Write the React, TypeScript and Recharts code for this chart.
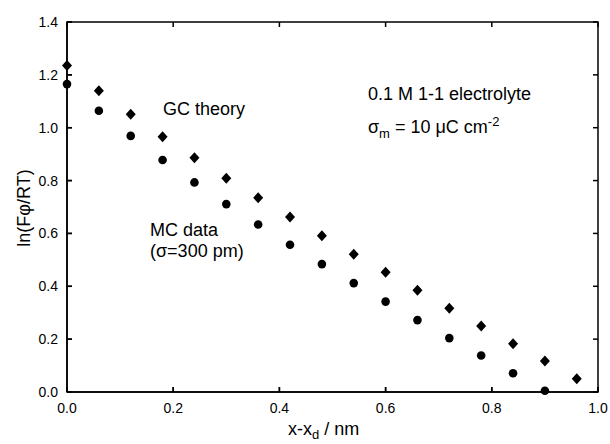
import React from 'react';
import { ScatterChart, Scatter, XAxis, YAxis, ReferenceArea, ReferenceLine } from 'recharts';

// GC theory (diamonds)
const gcX = [0, 0.06, 0.12, 0.18, 0.24, 0.3, 0.36, 0.42, 0.48, 0.54, 0.6, 0.66, 0.72, 0.78, 0.84, 0.9, 0.96];
const gcY = [1.235, 1.14, 1.051, 0.966, 0.886, 0.809, 0.735, 0.662, 0.591, 0.521, 0.453, 0.385, 0.317, 0.25, 0.183, 0.117, 0.05];

// MC data (circles)
const mcX = [0, 0.06, 0.12, 0.18, 0.24, 0.3, 0.36, 0.42, 0.48, 0.54, 0.6, 0.66, 0.72, 0.78, 0.84, 0.9];
const mcY = [1.165, 1.064, 0.969, 0.878, 0.793, 0.711, 0.634, 0.557, 0.484, 0.412, 0.342, 0.272, 0.204, 0.138, 0.071, 0.005];

const xTicks = [0, 0.2, 0.4, 0.6, 0.8, 1.0];
const yTicks = [0, 0.2, 0.4, 0.6, 0.8, 1.0, 1.2, 1.4];

const font = '"Liberation Sans", Arial, sans-serif';
const LW = 1.5;
// inward tick length (~5px) expressed in axis units
const xTickLen = 0.0094;
const yTickLen = 0.019;

const gcData = gcX.map((x, i) => ({ x, y: gcY[i] }));
const mcData = mcX.map((x, i) => ({ x, y: mcY[i] }));

const Diamond = (props: any) => {
  const { cx, cy } = props;
  return (
    <polygon
      points={`${cx},${cy - 5.5} ${cx + 5},${cy} ${cx},${cy + 5.5} ${cx - 5},${cy}`}
      fill="#000"
    />
  );
};

const Dot = (props: any) => <circle cx={props.cx} cy={props.cy} r={4.3} fill="#000" />;

const tickStyle = { fill: '#000', fontSize: 14, fontFamily: font };
const line = { stroke: '#000', strokeWidth: LW };

const label: React.CSSProperties = {
  position: 'absolute',
  fontFamily: font,
  fontSize: 18,
  lineHeight: '18px',
  color: '#000',
  whiteSpace: 'nowrap',
};
const sub: React.CSSProperties = { fontSize: 13, position: 'relative', top: 5 };
const sup: React.CSSProperties = { fontSize: 13, position: 'relative', top: -7 };

export default function App() {
  return (
    <div style={{ position: 'absolute', left: 0, top: 0, width: 610, height: 444, background: '#fff' }}>
      <ScatterChart width={610} height={444} margin={{ top: 22, right: 12, bottom: 0, left: 0 }}>
        <XAxis
          xAxisId="b"
          type="number"
          dataKey="x"
          domain={[0, 1]}
          ticks={xTicks}
          tickFormatter={(v: number) => v.toFixed(1)}
          height={52}
          tickSize={-5}
          tickMargin={16}
          axisLine={line}
          tickLine={line}
          tick={tickStyle}
        />
        <YAxis
          yAxisId="l"
          type="number"
          dataKey="y"
          domain={[0, 1.4]}
          ticks={yTicks}
          tickFormatter={(v: number) => v.toFixed(1)}
          width={67}
          tickSize={-5}
          tickMargin={14}
          axisLine={line}
          tickLine={line}
          tick={tickStyle}
        />
        <ReferenceArea
          xAxisId="b"
          yAxisId="l"
          x1={0}
          x2={1}
          y1={0}
          y2={1.4}
          fill="none"
          stroke="#000"
          strokeWidth={LW}
        />
        {xTicks.map((v) => (
          <ReferenceLine
            key={'xb' + v}
            xAxisId="b"
            yAxisId="l"
            segment={[{ x: v, y: 0 }, { x: v, y: yTickLen }]}
            stroke="#000"
            strokeWidth={LW}
          />
        ))}
        {xTicks.map((v) => (
          <ReferenceLine
            key={'xt' + v}
            xAxisId="b"
            yAxisId="l"
            segment={[{ x: v, y: 1.4 }, { x: v, y: 1.4 - yTickLen }]}
            stroke="#000"
            strokeWidth={LW}
          />
        ))}
        {yTicks.map((v) => (
          <ReferenceLine
            key={'yl' + v}
            xAxisId="b"
            yAxisId="l"
            segment={[{ x: 0, y: v }, { x: xTickLen, y: v }]}
            stroke="#000"
            strokeWidth={LW}
          />
        ))}
        {yTicks.map((v) => (
          <ReferenceLine
            key={'yr' + v}
            xAxisId="b"
            yAxisId="l"
            segment={[{ x: 1, y: v }, { x: 1 - xTickLen, y: v }]}
            stroke="#000"
            strokeWidth={LW}
          />
        ))}
        <Scatter xAxisId="b" yAxisId="l" data={gcData} shape={Diamond} isAnimationActive={false} />
        <Scatter xAxisId="b" yAxisId="l" data={mcData} shape={Dot} isAnimationActive={false} />
      </ScatterChart>

      <div style={{ ...label, left: 163, top: 100 }}>GC theory</div>
      <div style={{ ...label, left: 150, top: 221 }}>MC data</div>
      <div style={{ ...label, left: 150, top: 242 }}>(σ=300 pm)</div>
      <div style={{ ...label, left: 368, top: 85 }}>0.1 M 1-1 electrolyte</div>
      <div style={{ ...label, left: 368, top: 118 }}>
        σ<span style={sub}>m</span> = 10 μC cm<span style={sup}>-2</span>
      </div>
      <div style={{ ...label, left: 288, top: 420 }}>
        x-x<span style={{ ...sub, top: 4 }}>d</span> / nm
      </div>
      <div
        style={{
          ...label,
          left: -36,
          top: 198.5,
          width: 120,
          textAlign: 'center',
          transform: 'rotate(-90deg)',
        }}
      >
        ln(Fφ/RT)
      </div>
    </div>
  );
}
